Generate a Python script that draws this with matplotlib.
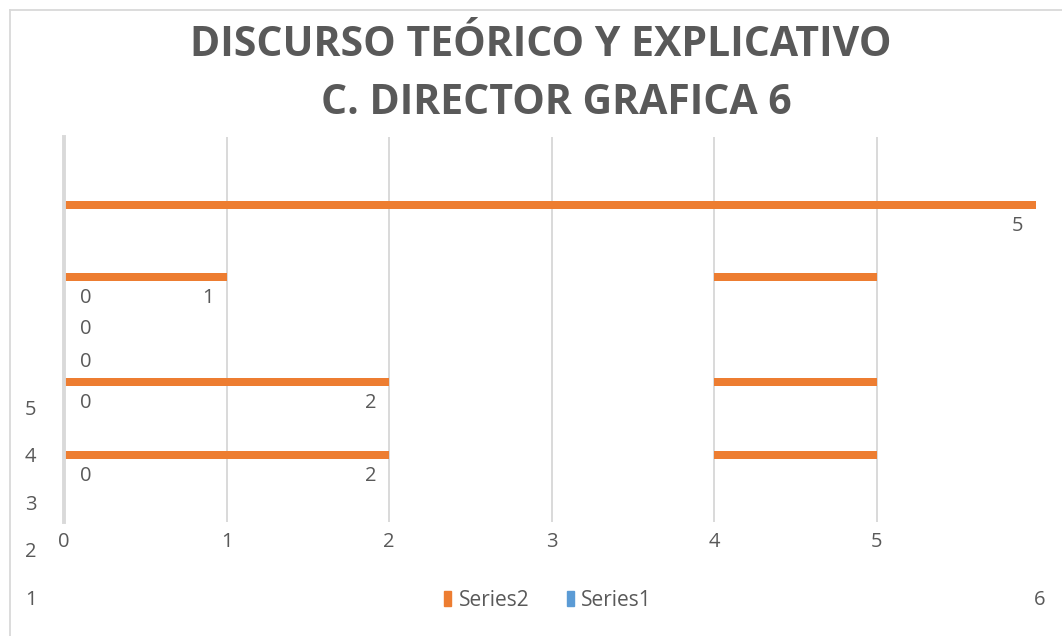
import matplotlib
matplotlib.use("Agg")
import matplotlib.pyplot as plt
from matplotlib.patches import Patch

plt.rcParams["font.family"] = ["Open Sans", "DejaVu Sans"]

# data (rows listed bottom to top)
title_line1 = "DISCURSO TEÓRICO Y EXPLICATIVO"
title_line2 = "C. DIRECTOR GRAFICA 6"
rows = [1.74, 3.64, 4.70, 5.56, 6.36, 8.23]
series2 = [2, 2, 0, 0, 1, 6]
series2_labels = ["2", "2", "", "", "1", "5"]
series1_labels = ["0", "0", "0", "0", "0", ""]
band_rows = [1.74, 3.64, 6.36]
band_left = 4
band_right = 5
x_ticks = [0, 1, 2, 3, 4, 5]
side_values = [1, 2, 3, 4, 5]
corner_label = "6"

ORANGE = "#ED7D31"
BLUE = "#5B9BD5"
TEXT = "#595959"
GRID = "#D9D9D9"

W, H = 1062, 636
fig = plt.figure(figsize=(W / 100, H / 100), dpi=100)

# outer frame with the stray 1..5 / 6 labels
frame = fig.add_axes([10 / W, 0, 1052 / W, 626 / H])
frame.set_facecolor("none")
for side in ["right", "bottom"]:
    frame.spines[side].set_visible(False)
for side in ["top", "left"]:
    frame.spines[side].set_color(GRID)
    frame.spines[side].set_linewidth(1.3)
frame.set_xticks([])
frame.set_yticks([])
frame.set_xlim(0, 1)
frame.set_ylim(0.242, 13.42)
for v in side_values:
    frame.annotate(str(v), (0, v), xycoords=("axes fraction", "data"),
                   xytext=(15, 0), textcoords="offset points",
                   ha="center", va="center", fontsize=14.5, color=TEXT)
frame.annotate(corner_label, (0.979, side_values[0]),
               xycoords=("axes fraction", "data"),
               ha="center", va="center", fontsize=14.5, color=TEXT)

# main plot
ax = fig.add_axes([64 / W, (H - 522) / H, (1036 - 64) / W, (522 - 137) / H])
ax.set_facecolor("none")
ax.barh(rows, series2, height=0.21, color=ORANGE, zorder=3)
ax.barh(band_rows, band_right - band_left, left=band_left, height=0.21,
        color=ORANGE, zorder=3)

for r, v, lab in zip(rows, series2, series2_labels):
    if lab:
        ax.annotate(lab, (min(v, 5.98), r), xytext=(-9, -15),
                    textcoords="offset points",
                    ha="right", va="center", fontsize=14.5, color=TEXT)
for r, lab in zip(rows, series1_labels):
    if lab:
        ax.annotate(lab, (0, r), xytext=(11.5, -15), textcoords="offset points",
                    ha="left", va="center", fontsize=14.5, color=TEXT)

ax.set_xlim(0, 5.98)
ax.set_ylim(0, 10)
ax.set_xticks(x_ticks)
ax.set_yticks([])
ax.tick_params(axis="x", length=0, labelsize=14.5, labelcolor=TEXT, pad=7)
ax.grid(axis="x", color=GRID, linewidth=1.4, zorder=0)
for side in ["top", "right", "bottom"]:
    ax.spines[side].set_visible(False)
ax.spines["left"].set_color(GRID)
ax.spines["left"].set_linewidth(2.8)
ax.spines["left"].set_zorder(4)

fig.text(541 / W, 1 - 45 / H, title_line1, ha="center", va="center",
         fontsize=29.5, fontweight="bold", color=TEXT)
fig.text(556 / W, 1 - 104 / H, title_line2, ha="center", va="center",
         fontsize=29.5, fontweight="bold", color=TEXT)

handles = [Patch(color=ORANGE), Patch(color=BLUE)]
fig.legend(handles, ["Series2", "Series1"], loc="center",
           bbox_to_anchor=(548 / W, 1 - 600 / H), ncol=2, frameon=False,
           fontsize=15, labelcolor=TEXT, handlelength=0.35, handleheight=0.7,
           handletextpad=0.35, columnspacing=1.8)

fig.savefig("out.png", dpi=100)
